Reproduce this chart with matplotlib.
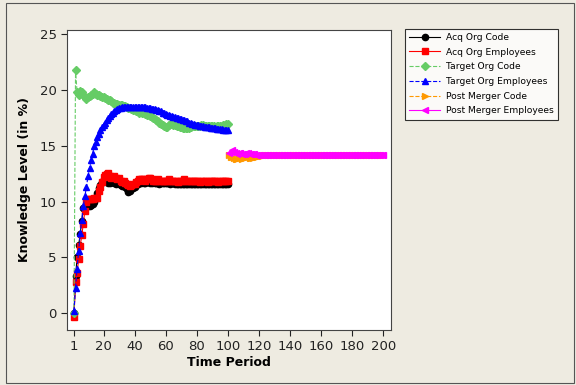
import matplotlib
matplotlib.use("Agg")
import matplotlib.pyplot as plt
from matplotlib.patches import Rectangle

# time axis
t_pre = list(range(1, 101))
t_post = list(range(101, 201))

acq_code = [
    0.0, 3.3, 5.0, 6.1, 7.1, 8.3, 9.4, 9.5, 9.6, 9.6,
    9.6, 9.7, 9.8, 10.0, 10.4, 10.8, 11.2, 11.5, 11.8, 12.0,
    12.0, 11.9, 11.7, 11.7, 11.8, 11.9, 11.7, 11.6, 11.7, 11.6,
    11.5, 11.4, 11.4, 11.3, 11.1, 10.9, 11.0, 11.2, 11.2, 11.3,
    11.5, 11.6, 11.7, 11.7, 11.8, 11.7, 11.7, 11.8, 11.8, 11.7,
    11.7, 11.8, 11.7, 11.7, 11.7, 11.6, 11.7, 11.7, 11.7, 11.7,
    11.7, 11.7, 11.6, 11.7, 11.7, 11.6, 11.6, 11.6, 11.6, 11.6,
    11.6, 11.6, 11.6, 11.6, 11.6, 11.6, 11.6, 11.6, 11.6, 11.6,
    11.6, 11.6, 11.6, 11.6, 11.6, 11.6, 11.6, 11.6, 11.6, 11.6,
    11.6, 11.6, 11.6, 11.6, 11.6, 11.6, 11.6, 11.6, 11.6, 11.6,
]

acq_emp = [
    -0.3, 2.8, 3.6, 4.9, 6.0, 7.0, 8.0, 9.2, 10.0, 10.2,
    10.2, 10.2, 10.2, 10.3, 10.3, 10.3, 11.0, 11.3, 11.8, 12.2,
    12.4, 12.5, 12.6, 12.3, 12.1, 12.2, 12.3, 12.1, 12.0, 12.1,
    11.9, 11.8, 11.9, 11.7, 11.6, 11.5, 11.4, 11.5, 11.6, 11.6,
    11.8, 11.9, 12.0, 12.0, 12.0, 12.0, 11.9, 12.0, 12.1, 12.1,
    12.0, 11.9, 11.9, 11.9, 12.0, 11.9, 11.9, 11.9, 11.9, 11.9,
    11.9, 12.0, 11.9, 11.9, 11.9, 11.9, 11.9, 11.8, 11.9, 11.9,
    11.9, 12.0, 11.9, 11.9, 11.9, 11.9, 11.9, 11.9, 11.9, 11.9,
    11.9, 11.8, 11.9, 11.9, 11.9, 11.9, 11.8, 11.9, 11.9, 11.9,
    11.9, 11.9, 11.9, 11.8, 11.9, 11.9, 11.9, 11.9, 11.9, 11.9,
]

target_code = [
    0.0, 21.8, 19.8, 19.6, 19.9, 19.8, 19.6, 19.4, 19.2, 19.4,
    19.5, 19.6, 19.7, 19.8, 19.7, 19.6, 19.6, 19.5, 19.4, 19.4,
    19.3, 19.2, 19.1, 19.1, 19.0, 18.9, 18.9, 18.8, 18.8, 18.7,
    18.7, 18.7, 18.6, 18.6, 18.5, 18.4, 18.4, 18.3, 18.2, 18.2,
    18.1, 18.1, 18.0, 18.1, 18.0, 18.0, 17.9, 17.8, 17.8, 17.7,
    17.6, 17.5, 17.4, 17.3, 17.2, 17.1, 17.0, 16.9, 16.8, 16.7,
    16.7, 16.9, 17.0, 17.0, 16.9, 16.9, 16.8, 16.8, 16.7, 16.7,
    16.6, 16.6, 16.6, 16.6, 16.6, 16.7, 16.8, 16.8, 16.8, 16.8,
    16.8, 16.8, 16.9, 16.9, 16.8, 16.8, 16.8, 16.8, 16.8, 16.8,
    16.8, 16.7, 16.8, 16.8, 16.8, 16.8, 16.9, 16.9, 17.0, 17.0,
]

target_emp = [
    0.2, 2.3, 4.0, 5.6, 7.2, 8.4, 9.6, 10.5, 11.3, 12.3,
    13.0, 13.7, 14.3, 15.0, 15.4, 15.8, 16.1, 16.4, 16.7, 16.9,
    17.1, 17.3, 17.5, 17.7, 17.9, 18.0, 18.1, 18.2, 18.3, 18.4,
    18.4, 18.5, 18.5, 18.5, 18.5, 18.5, 18.5, 18.5, 18.5, 18.5,
    18.5, 18.5, 18.5, 18.5, 18.5, 18.5, 18.5, 18.4, 18.4, 18.4,
    18.3, 18.3, 18.3, 18.2, 18.2, 18.1, 18.1, 18.0, 18.0, 17.9,
    17.8, 17.8, 17.7, 17.7, 17.6, 17.6, 17.5, 17.5, 17.4, 17.4,
    17.3, 17.3, 17.2, 17.2, 17.1, 17.1, 17.0, 17.0, 16.9, 16.9,
    16.9, 16.8, 16.8, 16.8, 16.7, 16.7, 16.7, 16.7, 16.6, 16.6,
    16.6, 16.6, 16.5, 16.5, 16.5, 16.5, 16.4, 16.4, 16.4, 16.4,
]

post_code = [
    14.2, 14.0, 14.0, 13.9, 13.8, 13.8, 13.9, 13.9, 13.8, 13.9,
    13.9, 14.0, 14.0, 13.9, 13.9, 13.9, 14.0, 14.0, 14.0, 14.1,
    14.1, 14.1, 14.2, 14.2, 14.2, 14.2, 14.2, 14.2, 14.2, 14.2,
    14.2, 14.2, 14.2, 14.2, 14.2, 14.2, 14.2, 14.2, 14.2, 14.2,
    14.2, 14.2, 14.2, 14.2, 14.2, 14.2, 14.2, 14.2, 14.2, 14.2,
    14.2, 14.2, 14.2, 14.2, 14.2, 14.2, 14.2, 14.2, 14.2, 14.2,
    14.2, 14.2, 14.2, 14.2, 14.2, 14.2, 14.2, 14.2, 14.2, 14.2,
    14.2, 14.2, 14.2, 14.2, 14.2, 14.2, 14.2, 14.2, 14.2, 14.2,
    14.2, 14.2, 14.2, 14.2, 14.2, 14.2, 14.2, 14.2, 14.2, 14.2,
    14.2, 14.2, 14.2, 14.2, 14.2, 14.2, 14.2, 14.2, 14.2, 14.2,
]

post_emp = [
    14.4, 14.5, 14.6, 14.5, 14.4, 14.3, 14.4, 14.4, 14.3, 14.3,
    14.3, 14.4, 14.4, 14.3, 14.3, 14.3, 14.3, 14.2, 14.2, 14.2,
    14.2, 14.2, 14.2, 14.2, 14.2, 14.2, 14.2, 14.2, 14.2, 14.2,
    14.2, 14.2, 14.2, 14.2, 14.2, 14.2, 14.2, 14.2, 14.2, 14.2,
    14.2, 14.2, 14.2, 14.2, 14.2, 14.2, 14.2, 14.2, 14.2, 14.2,
    14.2, 14.2, 14.2, 14.2, 14.2, 14.2, 14.2, 14.2, 14.2, 14.2,
    14.2, 14.2, 14.2, 14.2, 14.2, 14.2, 14.2, 14.2, 14.2, 14.2,
    14.2, 14.2, 14.2, 14.2, 14.2, 14.2, 14.2, 14.2, 14.2, 14.2,
    14.2, 14.2, 14.2, 14.2, 14.2, 14.2, 14.2, 14.2, 14.2, 14.2,
    14.2, 14.2, 14.2, 14.2, 14.2, 14.2, 14.2, 14.2, 14.2, 14.2,
]

x_ticks = [1, 20, 40, 60, 80, 100, 120, 140, 160, 180, 200]
y_ticks = [0, 5, 10, 15, 20, 25]

bg = '#EEEBE1'
fig = plt.figure(figsize=(5.76, 3.85), dpi=100, facecolor=bg)
ax = fig.add_axes([0.1163, 0.143, 0.5625, 0.779])
ax.set_facecolor('white')

ms = 4.5
ax.plot(t_pre, acq_code, color='black', linestyle='-', marker='o', ms=ms, lw=0.8, label='Acq Org Code')
ax.plot(t_pre, acq_emp, color='#FF0000', linestyle='-', marker='s', ms=ms, lw=0.8, label='Acq Org Employees')
ax.plot(t_pre, target_code, color='#66CC66', linestyle='--', marker='D', ms=ms - 0.5, lw=0.8, label='Target Org Code')
ax.plot(t_pre, target_emp, color='#0000FF', linestyle='--', marker='^', ms=ms + 0.5, lw=0.8, label='Target Org Employees')
ax.plot(t_post, post_code, color='#FF9900', linestyle='--', marker='>', ms=ms, lw=0.8, label='Post Merger Code')
ax.plot(t_post, post_emp, color='#FF00FF', linestyle='-', marker='<', ms=ms, lw=0.8, label='Post Merger Employees')

ax.set_xlim(-3.5, 205)
ax.set_ylim(-1.5, 25.4)
ax.set_xticks(x_ticks)
ax.set_yticks(y_ticks)
ax.tick_params(labelsize=9.5, length=4, width=0.8, direction='out', colors='#222222')
for s in ax.spines.values():
    s.set_color('#444444')
    s.set_linewidth(0.8)

ax.set_xlabel('Time Period', fontsize=9, fontweight='bold', labelpad=2)
ax.set_ylabel('Knowledge Level (in %)', fontsize=9, fontweight='bold', labelpad=6)

leg = fig.legend(loc='upper left', bbox_to_anchor=(0.703, 0.925), borderaxespad=0, fontsize=6.6,
                 frameon=True, fancybox=False, handlelength=3.4, handletextpad=0.6,
                 labelspacing=0.62, borderpad=0.45)
leg.get_frame().set_edgecolor('black')
leg.get_frame().set_linewidth(0.8)

# outer frame of the picture
fig.patches.append(Rectangle((6 / 576, 2 / 385), 568 / 576, 380 / 385, transform=fig.transFigure,
                             fill=False, edgecolor='#555555', linewidth=0.8))

fig.savefig('out.png', dpi=100, facecolor=bg)
